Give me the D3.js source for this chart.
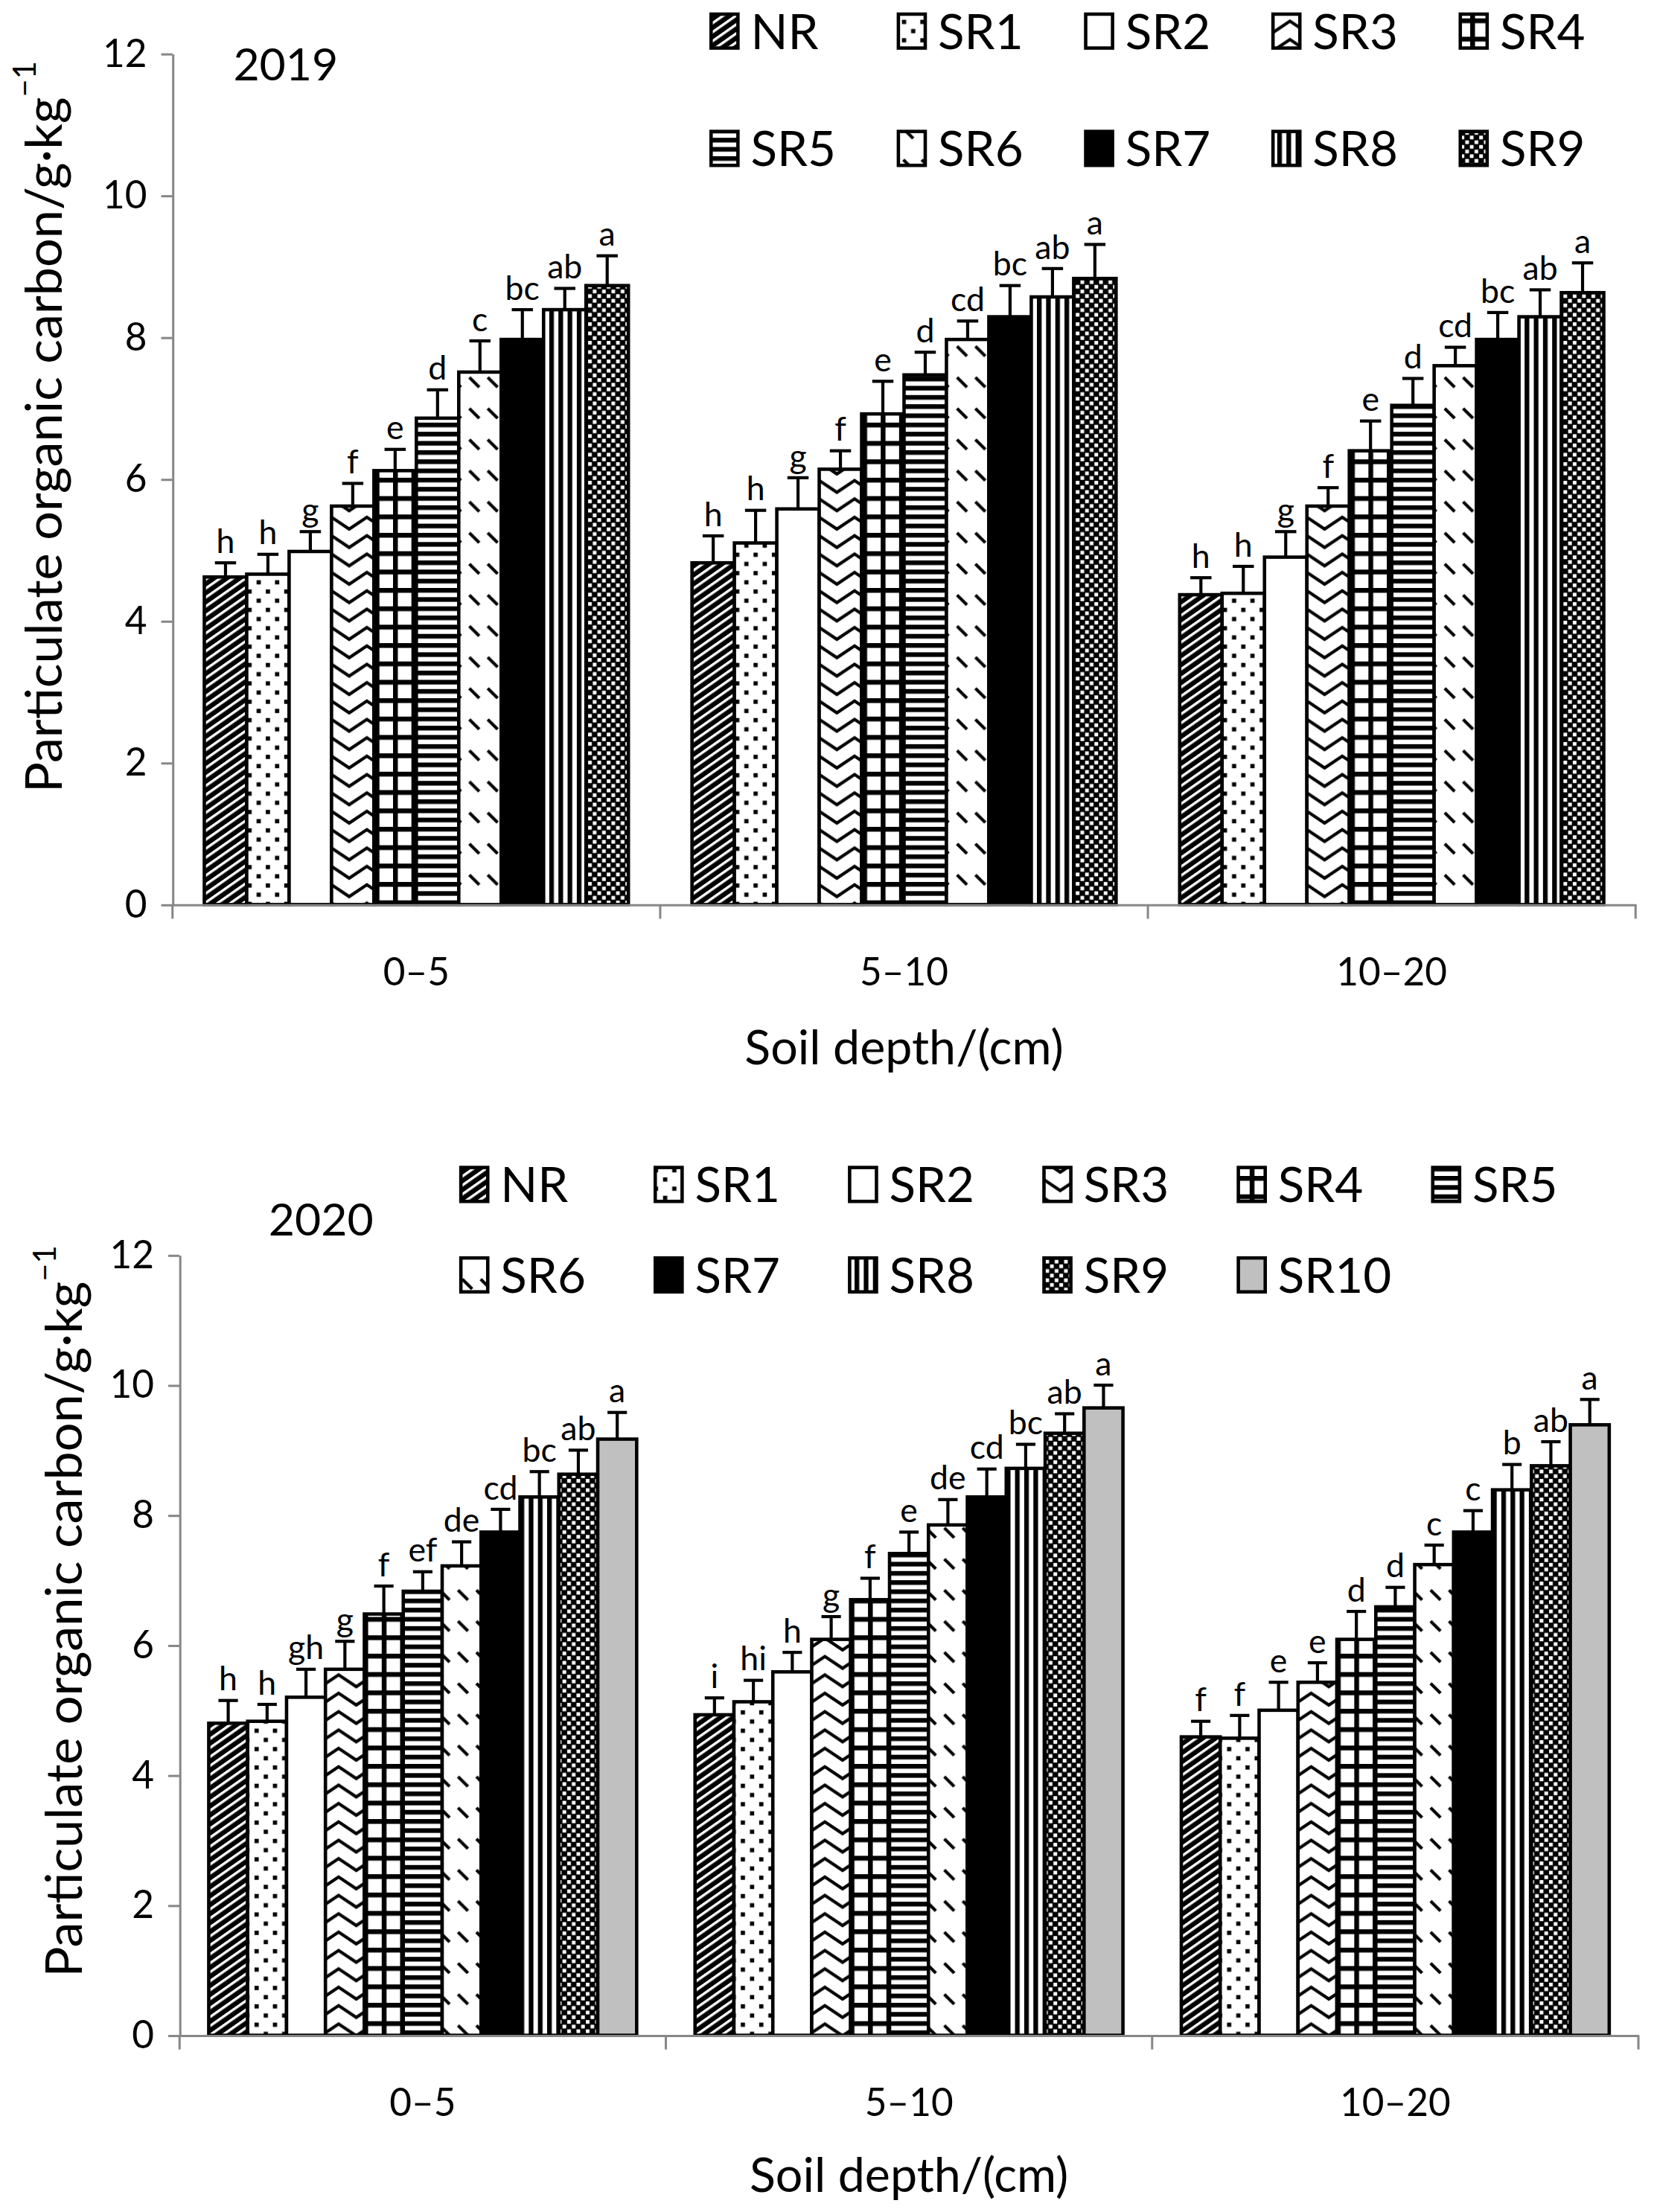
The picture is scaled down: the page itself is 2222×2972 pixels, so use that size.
<!DOCTYPE html>
<html>
<head>
<meta charset="utf-8">
<script src="https://cdn.jsdelivr.net/npm/d3@7/dist/d3.min.js"></script>
<style>
  body { margin: 0; background: #fff; }
  text { font-family: Lato, "Open Sans", sans-serif; fill: #000; }
</style>
</head>
<body>
<svg id="fig"></svg>
<script>
// ---- data ----
const depths = ["0–5", "5–10", "10–20"]
const series2019 = ["NR", "SR1", "SR2", "SR3", "SR4", "SR5", "SR6", "SR7", "SR8", "SR9"]
const series2020 = ["NR", "SR1", "SR2", "SR3", "SR4", "SR5", "SR6", "SR7", "SR8", "SR9", "SR10"]
const yTicks = [0, 2, 4, 6, 8, 10, 12]

// 2019, one row per depth
const mean2019 = [
  [4.62, 4.66, 4.98, 5.62, 6.12, 6.86, 7.51, 7.97, 8.39, 8.73],
  [4.82, 5.10, 5.58, 6.14, 6.92, 7.47, 7.97, 8.29, 8.57, 8.83],
  [4.37, 4.39, 4.90, 5.62, 6.40, 7.04, 7.60, 7.97, 8.29, 8.63]
]
const sd2019 = [
  [0.20, 0.28, 0.28, 0.32, 0.30, 0.40, 0.44, 0.42, 0.30, 0.42],
  [0.38, 0.46, 0.44, 0.26, 0.46, 0.32, 0.26, 0.44, 0.40, 0.48],
  [0.24, 0.38, 0.36, 0.26, 0.42, 0.38, 0.26, 0.38, 0.38, 0.42]
]
const letters2019 = [
  ["h", "h", "g", "f", "e", "d", "c", "bc", "ab", "a"],
  ["h", "h", "g", "f", "e", "d", "cd", "bc", "ab", "a"],
  ["h", "h", "g", "f", "e", "d", "cd", "bc", "ab", "a"]
]

// 2020
const mean2020 = [
  [4.80, 4.83, 5.20, 5.63, 6.48, 6.83, 7.22, 7.74, 8.28, 8.63, 9.17],
  [4.93, 5.13, 5.59, 6.09, 6.70, 7.41, 7.85, 8.28, 8.72, 9.26, 9.65],
  [4.59, 4.57, 5.00, 5.43, 6.09, 6.59, 7.24, 7.74, 8.39, 8.76, 9.39]
]
const sd2020 = [
  [0.35, 0.26, 0.43, 0.43, 0.43, 0.30, 0.37, 0.35, 0.39, 0.37, 0.41],
  [0.26, 0.33, 0.30, 0.35, 0.33, 0.33, 0.39, 0.43, 0.37, 0.30, 0.35],
  [0.24, 0.35, 0.43, 0.30, 0.43, 0.30, 0.30, 0.33, 0.39, 0.37, 0.39]
]
const letters2020 = [
  ["h", "h", "gh", "g", "f", "ef", "de", "cd", "bc", "ab", "a"],
  ["i", "hi", "h", "g", "f", "e", "de", "cd", "bc", "ab", "a"],
  ["f", "f", "e", "e", "d", "d", "c", "c", "b", "ab", "a"]
]

// ---- drawing ----
const W = 1170, H = 1565
const svg = d3.select("#fig")
  .attr("width", 2222).attr("height", 2972)
  .attr("viewBox", `0 0 ${W} ${H}`)

svg.append("rect").attr("width", W).attr("height", H).attr("fill", "#fff")

const axisGrey = "#878787"
const defs = svg.append("defs")

function pattern(id, w, h, build, transform) {
  const p = defs.append("pattern").attr("id", id)
    .attr("patternUnits", "userSpaceOnUse")
    .attr("width", w).attr("height", h)
  if (transform) p.attr("patternTransform", transform)
  build(p)
}

// wide upward diagonal
pattern("pNR", 10, 5.2, p => {
  p.append("rect").attr("width", 10).attr("height", 5.2).attr("fill", "#000")
  p.append("rect").attr("width", 10).attr("height", 1.8).attr("fill", "#fff")
}, "rotate(-35)")
// dots
pattern("pSR1", 13, 13, p => {
  p.append("rect").attr("width", 13).attr("height", 13).attr("fill", "#fff")
  p.append("rect").attr("x", 1).attr("y", 1).attr("width", 3).attr("height", 3).attr("fill", "#000")
  p.append("rect").attr("x", 7.5).attr("y", 7.5).attr("width", 3).attr("height", 3).attr("fill", "#000")
})
// zigzag
pattern("pSR3", 25, 13, p => {
  p.append("rect").attr("width", 25).attr("height", 13).attr("fill", "#fff")
  p.append("polyline").attr("points", "-1,11 12.5,2 26,11")
    .attr("fill", "none").attr("stroke", "#000").attr("stroke-width", 2.2)
})
// large grid
pattern("pSR4", 13, 13, p => {
  p.append("rect").attr("width", 13).attr("height", 13).attr("fill", "#fff")
  p.append("rect").attr("width", 3.4).attr("height", 13).attr("fill", "#000")
  p.append("rect").attr("width", 13).attr("height", 3.4).attr("fill", "#000")
})
// horizontal lines
pattern("pSR5", 10, 6.5, p => {
  p.append("rect").attr("width", 10).attr("height", 6.5).attr("fill", "#fff")
  p.append("rect").attr("width", 10).attr("height", 3.3).attr("fill", "#000")
})
// dashed downward diagonal
pattern("pSR6", 13, 22, p => {
  p.append("rect").attr("width", 13).attr("height", 22).attr("fill", "#fff")
  p.append("line").attr("x1", 2).attr("y1", 3).attr("x2", 9).attr("y2", 10)
    .attr("stroke", "#000").attr("stroke-width", 2.2)
})
// vertical lines
pattern("pSR8", 6.5, 10, p => {
  p.append("rect").attr("width", 6.5).attr("height", 10).attr("fill", "#fff")
  p.append("rect").attr("width", 3.3).attr("height", 10).attr("fill", "#000")
})
// checker
pattern("pSR9", 6.6, 6.6, p => {
  p.append("rect").attr("width", 6.6).attr("height", 6.6).attr("fill", "#000")
  p.append("rect").attr("x", 0.3).attr("y", 0.3).attr("width", 2.6).attr("height", 2.6).attr("fill", "#fff")
  p.append("rect").attr("x", 3.6).attr("y", 3.6).attr("width", 2.6).attr("height", 2.6).attr("fill", "#fff")
})

const fills = {
  NR: "url(#pNR)", SR1: "url(#pSR1)", SR2: "#fff", SR3: "url(#pSR3)", SR4: "url(#pSR4)",
  SR5: "url(#pSR5)", SR6: "url(#pSR6)", SR7: "#000", SR8: "url(#pSR8)", SR9: "url(#pSR9)",
  SR10: "#c0c0c0"
}

function drawPanel(p) {
  const g = svg.append("g")
  const x0 = d3.scaleBand().domain(depths).range([p.left, p.left + 3 * p.groupW])
  const x1 = d3.scaleBand().domain(p.series).range([0, x0.bandwidth()]).paddingOuter(0.75)
  const y = d3.scaleLinear().domain([0, 12]).range([p.bottom, p.top])
  const bw = x1.bandwidth()

  depths.forEach((dep, di) => {
    const rows = p.series.map((s, si) => ({ s, m: p.means[di][si], e: p.sds[di][si], l: p.letters[di][si] }))
    const grp = g.append("g").attr("transform", `translate(${x0(dep)},0)`)

    grp.selectAll("rect.bar").data(rows).join("rect")
      .attr("class", "bar")
      .attr("x", d => x1(d.s)).attr("width", bw)
      .attr("y", d => y(d.m)).attr("height", d => y(0) - y(d.m))
      .attr("fill", d => fills[d.s])
      .attr("stroke", "#000").attr("stroke-width", 2.4)

    // error bars (upper only)
    const eb = grp.selectAll("g.err").data(rows).join("g").attr("class", "err")
    eb.append("line")
      .attr("x1", d => x1(d.s) + bw / 2).attr("x2", d => x1(d.s) + bw / 2)
      .attr("y1", d => y(d.m)).attr("y2", d => y(d.m + d.e))
      .attr("stroke", "#000").attr("stroke-width", 2.2)
    eb.append("line")
      .attr("x1", d => x1(d.s) + bw / 4).attr("x2", d => x1(d.s) + bw * 3 / 4)
      .attr("y1", d => y(d.m + d.e)).attr("y2", d => y(d.m + d.e))
      .attr("stroke", "#000").attr("stroke-width", 2.2)

    grp.selectAll("text.sig").data(rows).join("text")
      .attr("class", "sig")
      .attr("x", d => x1(d.s) + bw / 2)
      .attr("y", d => y(d.m + d.e) - 7)
      .attr("text-anchor", "middle")
      .style("font-size", "23.5px")
      .text(d => d.l)
  })

  // y axis
  const ya = g.append("g").attr("transform", `translate(${p.left},0)`)
    .call(d3.axisLeft(y).tickValues(yTicks).tickSize(8).tickSizeOuter(0).tickPadding(10))
  ya.select(".domain").attr("stroke", axisGrey).attr("stroke-width", 1.6)
  ya.selectAll(".tick line").attr("stroke", axisGrey).attr("stroke-width", 1.6)
  ya.selectAll(".tick text").style("font-size", "27px").attr("fill", "#000")

  // x axis: labels at group centres, ticks at group boundaries
  const xa = g.append("g").attr("transform", `translate(0,${p.bottom})`)
    .call(d3.axisBottom(x0).tickSize(0).tickPadding(38))
  xa.select(".domain").attr("stroke", axisGrey).attr("stroke-width", 1.6)
  xa.selectAll(".tick text").style("font-size", "27px").attr("fill", "#000")
  const bounds = [x0(depths[0])].concat(depths.map(d => x0(d) + x0.bandwidth()))
  xa.selectAll("line.bound").data(bounds).join("line")
    .attr("class", "bound")
    .attr("x1", d => d).attr("x2", d => d).attr("y1", 0).attr("y2", 10)
    .attr("stroke", axisGrey).attr("stroke-width", 1.6)

  // titles
  g.append("text")
    .attr("transform", `translate(${p.yTitleX},${p.yTitleY}) rotate(-90)`)
    .attr("text-anchor", "middle").attr("dominant-baseline", "central")
    .style("font-size", "36px")
    .call(t => {
      t.append("tspan").text("Particulate organic carbon/g·kg")
      t.append("tspan").attr("baseline-shift", "super").style("font-size", "22px").text("−1")
    })
  g.append("text")
    .attr("x", p.left + 1.5 * p.groupW).attr("y", p.xTitleY)
    .attr("text-anchor", "middle").style("font-size", "34px")
    .text("Soil depth/(cm)")
  g.append("text")
    .attr("x", p.yearX).attr("y", p.yearY)
    .style("font-size", "32px").text(p.year)

  // legend
  const lg = g.append("g")
  p.series.forEach((s, i) => {
    const col = i % p.legendPerRow, row = Math.floor(i / p.legendPerRow)
    const lx = p.legendX + col * p.legendDX, ly = p.legendRowY[row]
    lg.append("rect")
      .attr("x", lx).attr("y", ly - 12).attr("width", 19).attr("height", 24)
      .attr("fill", fills[s]).attr("stroke", "#000").attr("stroke-width", 2.4)
    lg.append("text")
      .attr("x", lx + 28).attr("y", ly + 12.5)
      .style("font-size", "34.5px").text(s)
  })
}

drawPanel({
  series: series2019, means: mean2019, sds: sd2019, letters: letters2019,
  top: 38, bottom: 640, left: 122, groupW: 345,
  year: "2019", yearX: 165, yearY: 57,
  legendX: 503, legendDX: 132.5, legendPerRow: 5, legendRowY: [22, 105],
  yTitleX: 30, yTitleY: 302, xTitleY: 753
})

drawPanel({
  series: series2020, means: mean2020, sds: sd2020, letters: letters2020,
  top: 888, bottom: 1440, left: 127, groupW: 344,
  year: "2020", yearX: 190, yearY: 874,
  legendX: 326, legendDX: 137.5, legendPerRow: 6, legendRowY: [838, 902],
  yTitleX: 44, yTitleY: 1140, xTitleY: 1551
})
</script>
</body>
</html>
